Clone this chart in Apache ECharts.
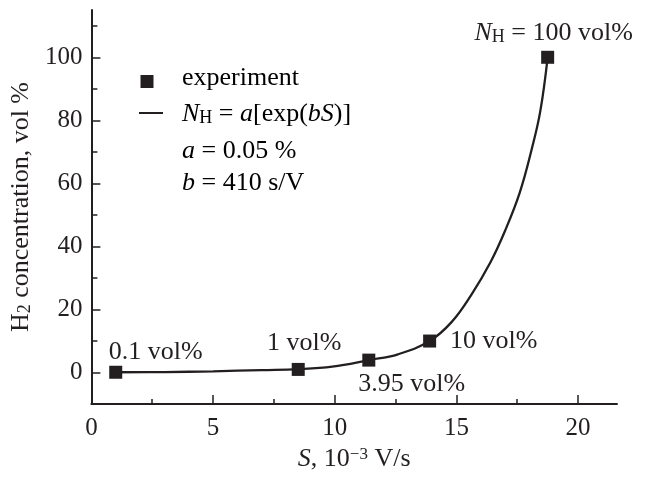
<!DOCTYPE html>
<html><head><meta charset="utf-8">
<script src="https://cdn.jsdelivr.net/npm/echarts@6/dist/echarts.min.js"></script>
<style>html,body{margin:0;padding:0;background:#fff}#c{width:648px;height:477px}</style>
</head><body><div id="c"></div>
<script>
// Data
const expS = [1.0, 8.5, 11.4, 13.9, 18.75];
const expN = [0.1, 1, 3.95, 10, 100];
const expLabels = ['0.1 vol%', '1 vol%', '3.95 vol%', '10 vol%', '{i|N}{s|H}{n| = 100 vol%}'];
const fitS = [1.0, 3.0, 5.0, 7.0, 8.5, 9.9, 11.4, 12.6, 13.9, 14.8, 15.6, 16.4, 17.0, 17.6, 18.1, 18.45, 18.75];
const fitN = [0.1, 0.17, 0.4, 0.8, 1.1, 1.9, 3.95, 5.8, 10, 16, 24.5, 35, 45, 57, 71, 83, 100];
const xMajor = [0, 5, 10, 15, 20];
const xMinor = [2.5, 7.5, 12.5, 17.5];
const yMajor = [0, 20, 40, 60, 80, 100];
const yMinor = [10, 30, 50, 70, 90, 110];

const C = '#231f20';
const F = '"Liberation Serif", "DejaVu Serif", serif';
const FS = 26;
const rich = {
  n: {fontFamily: F, fontSize: FS, color: C},
  i: {fontFamily: F, fontSize: FS, color: C, fontStyle: 'italic'},
  s: {fontFamily: F, fontSize: 18, color: C, verticalAlign: 'bottom', lineHeight: 16},
  sup: {fontFamily: F, fontSize: 17, color: C, verticalAlign: 'top', lineHeight: 16}
};
const labelOffsets = [[40, -20], [6, -26], [43, 24], [64, 0], [6, -24]];

const chart = echarts.init(document.getElementById('c'), null, {renderer: 'canvas'});
const baseAxisX = {type: 'value', min: 0, max: 21.6, position: 'bottom', splitLine: {show: false}};
const baseAxisY = {type: 'value', min: -10, max: 115, position: 'left', splitLine: {show: false}};
chart.setOption({
  animation: false,
  backgroundColor: '#fff',
  grid: {left: 89, right: 31, top: 10, bottom: 64},
  xAxis: [
    Object.assign({}, baseAxisX, {
      name: '{i|S}{n|, 10}{sup|\u22123}{n| V/s}',
      nameLocation: 'middle', nameGap: 34,
      nameTextStyle: {rich: rich},
      axisLine: {onZero: false, lineStyle: {color: C, width: 2}},
      axisTick: {inside: true, length: 9, customValues: xMajor, lineStyle: {color: C, width: 1.5}},
      axisLabel: {customValues: xMajor, fontFamily: F, fontSize: 25, color: C, margin: 12}
    }),
    Object.assign({}, baseAxisX, {
      axisLine: {show: false, onZero: false},
      axisTick: {inside: true, length: 5, customValues: xMinor, lineStyle: {color: C, width: 1.5}},
      axisLabel: {show: false}
    })
  ],
  yAxis: [
    Object.assign({}, baseAxisY, {
      name: '{n|H}{s|2}{n| concentration, vol %}',
      nameLocation: 'middle', nameGap: 47,
      nameTextStyle: {rich: rich},
      axisLine: {onZero: false, lineStyle: {color: C, width: 2}},
      axisTick: {inside: true, length: 9, customValues: yMajor, lineStyle: {color: C, width: 1.5}},
      axisLabel: {customValues: yMajor, fontFamily: F, fontSize: 25, color: C, margin: 9}
    }),
    Object.assign({}, baseAxisY, {
      axisLine: {show: false, onZero: false},
      axisTick: {inside: true, length: 6, customValues: yMinor, lineStyle: {color: C, width: 1.5}},
      axisLabel: {show: false}
    })
  ],
  series: [
    {
      name: 'fit', type: 'line', smooth: 0.4, showSymbol: false,
      xAxisIndex: 0, yAxisIndex: 0,
      data: fitS.map((s, k) => [s, fitN[k]]),
      lineStyle: {color: C, width: 2.3}, z: 2
    },
    {
      name: 'experiment', type: 'scatter', symbol: 'rect', symbolSize: 13,
      xAxisIndex: 0, yAxisIndex: 0,
      itemStyle: {color: C, opacity: 1},
      data: expS.map((s, k) => ({
        value: [s, expN[k]],
        label: {
          show: true, position: 'inside', offset: labelOffsets[k], color: C, opacity: 1,
          formatter: k === 4 ? expLabels[k] : '{n|' + expLabels[k] + '}',
          rich: rich
        }
      })),
      z: 3
    }
  ],
  graphic: [
    {type: 'rect', shape: {x: 140.5, y: 75, width: 13, height: 13}, style: {fill: C}},
    {type: 'line', shape: {x1: 139, y1: 113, x2: 163, y2: 113}, style: {stroke: C, lineWidth: 2}},
    {type: 'text', x: 182, y: 78, style: {text: '{n|experiment}', rich: rich, verticalAlign: 'middle'}},
    {type: 'text', x: 182, y: 114, style: {text: '{i|N}{s|H}{n| = }{i|a}{n|[exp(}{i|bS}{n|)]}', rich: rich, verticalAlign: 'middle'}},
    {type: 'text', x: 182, y: 151, style: {text: '{i|a}{n| = 0.05 %}', rich: rich, verticalAlign: 'middle'}},
    {type: 'text', x: 182, y: 183, style: {text: '{i|b}{n| = 410 s/V}', rich: rich, verticalAlign: 'middle'}}
  ]
});
</script>
</body></html>
